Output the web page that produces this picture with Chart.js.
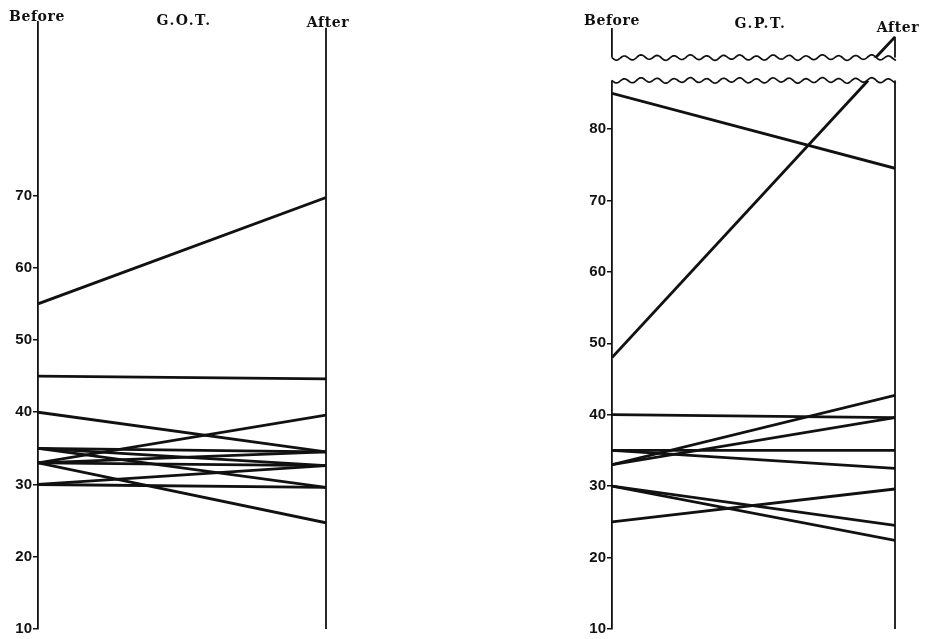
<!DOCTYPE html>
<html>
<head>
<meta charset="utf-8">
<script src="https://cdn.jsdelivr.net/npm/chart.js@4.4.1/dist/chart.umd.min.js"></script>
<style>
  html, body { margin: 0; padding: 0; background: #fff; }
  #wrap { position: relative; width: 929px; height: 639px; overflow: hidden; }
  canvas { position: absolute; top: 0; }
  #got { left: 0; }
  #gpt { left: 560px; }
</style>
</head>
<body>
<div id="wrap">
  <canvas id="got" width="360" height="639"></canvas>
  <canvas id="gpt" width="369" height="639"></canvas>
</div>
<script>
const PHASES = ["Before", "After"];

const GOT_TICKS = [10, 20, 30, 40, 50, 60, 70];
const GOT_BEFORE = [55, 45, 40, 33, 35, 35, 35, 33, 33, 33, 30, 30];
const GOT_AFTER = [69.7, 44.6, 34.5, 39.6, 34.5, 32.6, 29.6, 34.5, 32.6, 24.7, 32.6, 29.6];

const GPT_TICKS = [10, 20, 30, 40, 50, 60, 70, 80];
const GPT_BEFORE = [85, 40, 33, 33, 35, 35, 30, 30, 25];
const GPT_AFTER = [74.5, 39.6, 42.7, 39.6, 35, 32.5, 24.5, 22.4, 29.6];

// one G.P.T. subject started at 48 and finished above the cut in the scale,
// so it is drawn in two pieces: below the cut and above it
const GPT_BREAK = [86.8, 90];
const GPT_OFF_LOW = [{ x: 0, y: 48 }, { x: 0.905, y: 86.8 }];
const GPT_OFF_HIGH = [{ x: 0.922, y: 89.6 }, { x: 1, y: 92.9 }];

const INK = "#111";

function pairDataset(before, after) {
  return {
    data: [{ x: 0, y: before }, { x: 1, y: after }],
    borderColor: INK,
    borderWidth: 2.8,
    pointRadius: 0,
    tension: 0,
  };
}

function pieceDataset(points) {
  return { ...pairDataset(0, 0), data: points };
}

function wavyLine(ctx, x0, x1, y) {
  ctx.beginPath();
  for (let x = x0; x <= x1; x += 1) {
    const t = (x - x0) / 16.5;
    const y2 = y + 2.2 * Math.sin(t * Math.PI * 2) + 0.6 * Math.sin(t * 0.37 * Math.PI * 2);
    if (x === x0) ctx.moveTo(x, y2);
    else ctx.lineTo(x, y2);
  }
  ctx.stroke();
}

const panelDecor = {
  id: "panelDecor",
  afterDatasetsDraw(chart, args, opts) {
    const { ctx, chartArea } = chart;
    const xs = chart.scales.x;
    const ys = chart.scales.y;
    const xl = xs.getPixelForValue(0);
    const xr = xs.getPixelForValue(1);
    ctx.save();
    ctx.strokeStyle = INK;
    ctx.lineWidth = 1.8;
    // "After" axis
    ctx.beginPath();
    ctx.moveTo(xr, ys.getPixelForValue(opts.afterTop));
    ctx.lineTo(xr, chartArea.bottom);
    ctx.stroke();

    if (opts.cut) {
      const yLow = ys.getPixelForValue(opts.cut[0]);
      const yHigh = ys.getPixelForValue(opts.cut[1]);
      ctx.fillStyle = "#fff";
      ctx.fillRect(xl - 3, yHigh, xr - xl + 6, yLow - yHigh);
      ctx.lineWidth = 1.7;
      wavyLine(ctx, xl, xr + 1, yHigh);
      wavyLine(ctx, xl, xr + 1, yLow);
    }

    ctx.fillStyle = INK;
    ctx.textBaseline = "alphabetic";
    ctx.textAlign = "center";
    ctx.font = "bold 14px 'DejaVu Serif'";
    ctx.letterSpacing = "0.6px";
    ctx.fillText(PHASES[0], xl + opts.beforeDx, opts.beforeY);
    ctx.fillText(PHASES[1], xr + opts.afterDx, opts.afterY);
    ctx.letterSpacing = "1.5px";
    ctx.fillText(opts.title, (xl + xr) / 2 + opts.titleDx, opts.titleY);
    ctx.restore();
  },
};

function buildChart(canvas, { datasets, ticks, axisWidth, padding, decor }) {
  return new Chart(canvas, {
    type: "line",
    data: { datasets },
    options: {
      responsive: false,
      animation: false,
      layout: { padding },
      scales: {
        x: { type: "linear", min: 0, max: 1, display: false },
        y: {
          min: 10,
          max: 94,
          afterBuildTicks(scale) {
            scale.ticks = ticks.map((value) => ({ value }));
          },
          afterFit(scale) {
            scale.width = axisWidth;
          },
          ticks: {
            color: INK,
            padding: 1,
            font: { family: "'Liberation Sans', Arial, sans-serif", size: 15, weight: "bold" },
          },
          grid: { drawOnChartArea: false, drawTicks: true, tickLength: 5, color: INK, lineWidth: 1.5 },
          border: { display: true, color: INK, width: 1.8 },
        },
      },
      plugins: {
        legend: { display: false },
        tooltip: { enabled: false },
        panelDecor: decor,
      },
    },
    plugins: [panelDecor],
  });
}

buildChart(document.getElementById("got"), {
  datasets: GOT_BEFORE.map((b, i) => pairDataset(b, GOT_AFTER[i])),
  ticks: GOT_TICKS,
  axisWidth: 38,
  padding: { left: 0, right: 34, top: 22, bottom: 8 },
  decor: { title: "G.O.T.", afterTop: 93.2, beforeDx: -1, beforeY: 21, afterDx: 2, afterY: 27, titleDx: 2, titleY: 25 },
});

buildChart(document.getElementById("gpt"), {
  datasets: [
    ...GPT_BEFORE.map((b, i) => pairDataset(b, GPT_AFTER[i])),
    pieceDataset(GPT_OFF_LOW),
    pieceDataset(GPT_OFF_HIGH),
  ],
  ticks: GPT_TICKS,
  axisWidth: 52,
  padding: { left: 0, right: 34, top: 29, bottom: 7 },
  decor: { title: "G.P.T.", afterTop: 92.9, cut: GPT_BREAK, beforeDx: 0, beforeY: 25, afterDx: 3, afterY: 32, titleDx: 7, titleY: 28 },
});
</script>
</body>
</html>
